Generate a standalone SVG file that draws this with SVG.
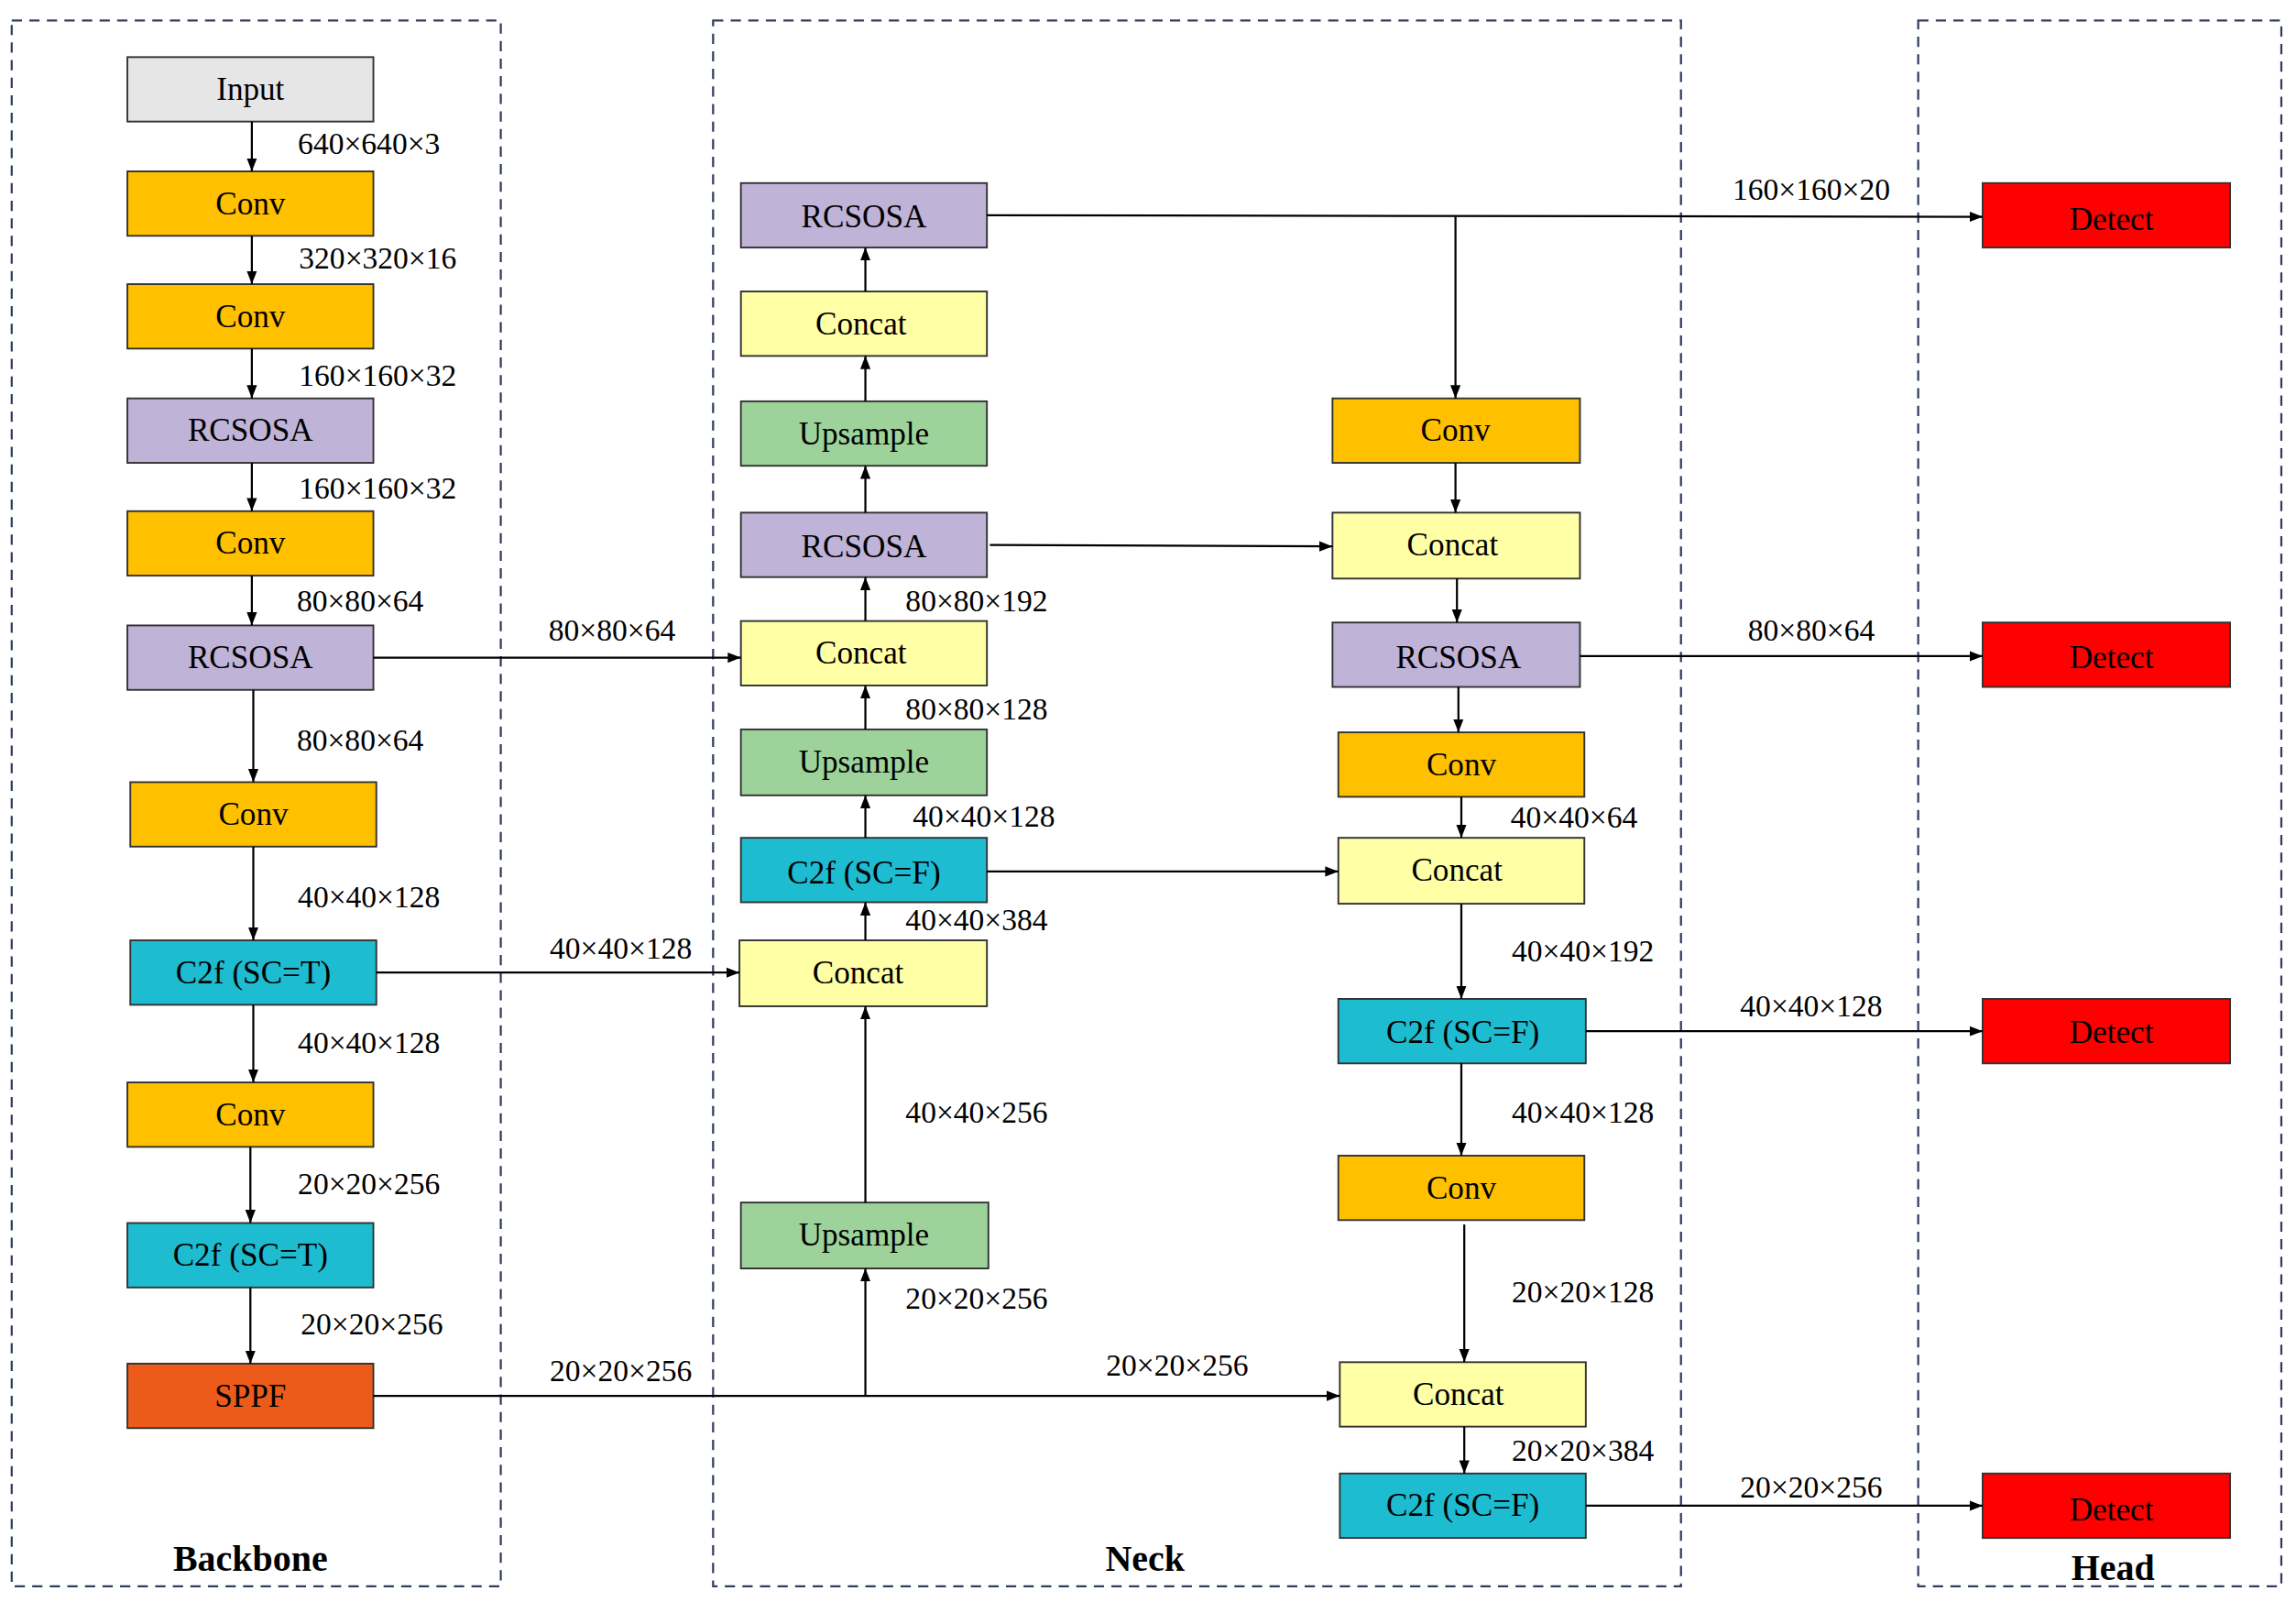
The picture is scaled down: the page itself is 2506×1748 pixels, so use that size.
<svg xmlns="http://www.w3.org/2000/svg" width="2506" height="1748" viewBox="0 0 2506 1748">
<defs>
<marker id="a" markerWidth="10" markerHeight="10" refX="9" refY="5" orient="auto" markerUnits="userSpaceOnUse"><path d="M0,1.5 L9,5 L0,8.5 z" fill="#000"/></marker>
<style>
.n{stroke:#333;stroke-width:1.2}
.t{font-family:"Liberation Serif",serif;font-size:22px;text-anchor:middle;dominant-baseline:central;fill:#000}
.l{font-family:"Liberation Serif",serif;font-size:21px;text-anchor:middle;dominant-baseline:central;fill:#000}
.h{font-family:"Liberation Serif",serif;font-size:25px;font-weight:bold;text-anchor:middle;dominant-baseline:central}
.c line,.c polyline{stroke:#000;stroke-width:1.4;fill:none;marker-end:url(#a)}
.g{fill:#e6e6e6}.o{fill:#ffc000}.p{fill:#c0b3d8}.y{fill:#ffffa6}.gr{fill:#9dd39b}.b{fill:#1ebcd0}.s{fill:#ec5b1a}.r{fill:#ff0000}
.d{fill:none;stroke:#2f3d5e;stroke-width:1.4;stroke-dasharray:7,5}
</style>
</defs>
<rect width="2506" height="1748" fill="#fff"/>
<g transform="scale(1.5982)">
<g id="frames">
<rect class="d" x="8" y="14" width="334" height="1069"/>
<rect class="d" x="487" y="14" width="661" height="1069"/>
<rect class="d" x="1310" y="14" width="248" height="1069"/>
<text class="h" x="171" y="1064">Backbone</text>
<text class="h" x="782" y="1064">Neck</text>
<text class="h" x="1443" y="1070">Head</text>
</g>
<g id="b1"><rect class="n g" x="87" y="39" width="168" height="44"/><text class="t" x="171" y="61">Input</text></g>
<g id="b2"><rect class="n o" x="87" y="117" width="168" height="44"/><text class="t" x="171" y="139">Conv</text></g>
<g id="b3"><rect class="n o" x="87" y="194" width="168" height="44"/><text class="t" x="171" y="216">Conv</text></g>
<g id="b4"><rect class="n p" x="87" y="272" width="168" height="44"/><text class="t" x="171" y="294">RCSOSA</text></g>
<g id="b5"><rect class="n o" x="87" y="349" width="168" height="44"/><text class="t" x="171" y="371">Conv</text></g>
<g id="b6"><rect class="n p" x="87" y="427" width="168" height="44"/><text class="t" x="171" y="449">RCSOSA</text></g>
<g id="b7"><rect class="n o" x="89" y="534" width="168" height="44"/><text class="t" x="173" y="556">Conv</text></g>
<g id="b8"><rect class="n b" x="89" y="642" width="168" height="44"/><text class="t" x="173" y="664">C2f (SC=T)</text></g>
<g id="b9"><rect class="n o" x="87" y="739" width="168" height="44"/><text class="t" x="171" y="761">Conv</text></g>
<g id="b10"><rect class="n b" x="87" y="835" width="168" height="44"/><text class="t" x="171" y="857">C2f (SC=T)</text></g>
<g id="b11"><rect class="n s" x="87" y="931" width="168" height="44"/><text class="t" x="171" y="953">SPPF</text></g>
<g id="n1"><rect class="n p" x="506" y="125" width="168" height="44"/><text class="t" x="590" y="148">RCSOSA</text></g>
<g id="n2"><rect class="n y" x="506" y="199" width="168" height="44"/><text class="t" x="588" y="221">Concat</text></g>
<g id="n3"><rect class="n gr" x="506" y="274" width="168" height="44"/><text class="t" x="590" y="296">Upsample</text></g>
<g id="n4"><rect class="n p" x="506" y="350" width="168" height="44"/><text class="t" x="590" y="373">RCSOSA</text></g>
<g id="n5"><rect class="n y" x="506" y="424" width="168" height="44"/><text class="t" x="588" y="446">Concat</text></g>
<g id="n6"><rect class="n gr" x="506" y="498" width="168" height="45"/><text class="t" x="590" y="520">Upsample</text></g>
<g id="n7"><rect class="n b" x="506" y="572" width="168" height="44"/><text class="t" x="590" y="596">C2f (SC=F)</text></g>
<g id="n8"><rect class="n y" x="505" y="642" width="169" height="45"/><text class="t" x="586" y="664">Concat</text></g>
<g id="n9"><rect class="n gr" x="506" y="821" width="169" height="45"/><text class="t" x="590" y="843">Upsample</text></g>
<g id="m1"><rect class="n o" x="910" y="272" width="169" height="44"/><text class="t" x="994" y="294">Conv</text></g>
<g id="m2"><rect class="n y" x="910" y="350" width="169" height="45"/><text class="t" x="992" y="372">Concat</text></g>
<g id="m3"><rect class="n p" x="910" y="425" width="169" height="44"/><text class="t" x="996" y="449">RCSOSA</text></g>
<g id="m4"><rect class="n o" x="914" y="500" width="168" height="44"/><text class="t" x="998" y="522">Conv</text></g>
<g id="m5"><rect class="n y" x="914" y="572" width="168" height="45"/><text class="t" x="995" y="594">Concat</text></g>
<g id="m6"><rect class="n b" x="914" y="682" width="169" height="44"/><text class="t" x="999" y="705">C2f (SC=F)</text></g>
<g id="m7"><rect class="n o" x="914" y="789" width="168" height="44"/><text class="t" x="998" y="811">Conv</text></g>
<g id="m8"><rect class="n y" x="915" y="930" width="168" height="44"/><text class="t" x="996" y="952">Concat</text></g>
<g id="m9"><rect class="n b" x="915" y="1006" width="168" height="44"/><text class="t" x="999" y="1028">C2f (SC=F)</text></g>
<g id="h1"><rect class="n r" x="1354" y="125" width="169" height="44"/><text class="t" x="1442" y="150">Detect</text></g>
<g id="h2"><rect class="n r" x="1354" y="425" width="169" height="44"/><text class="t" x="1442" y="449">Detect</text></g>
<g id="h3"><rect class="n r" x="1354" y="682" width="169" height="44"/><text class="t" x="1442" y="705">Detect</text></g>
<g id="h4"><rect class="n r" x="1354" y="1006" width="169" height="44"/><text class="t" x="1442" y="1031">Detect</text></g>
<g id="connectors" class="c">
<line x1="172" y1="83" x2="172" y2="117"/>
<line x1="172" y1="161" x2="172" y2="194"/>
<line x1="172" y1="238" x2="172" y2="272"/>
<line x1="172" y1="316" x2="172" y2="349"/>
<line x1="172" y1="393" x2="172" y2="427"/>
<line x1="173" y1="471" x2="173" y2="534"/>
<line x1="173" y1="578" x2="173" y2="642"/>
<line x1="173" y1="686" x2="173" y2="739"/>
<line x1="171" y1="783" x2="171" y2="835"/>
<line x1="171" y1="879" x2="171" y2="931"/>
<line x1="255" y1="449" x2="506" y2="449"/>
<line x1="257" y1="664" x2="505" y2="664"/>
<line x1="255" y1="953" x2="915" y2="953"/>
<line x1="591" y1="953" x2="591" y2="866"/>
<line x1="591" y1="821" x2="591" y2="687"/>
<line x1="591" y1="642" x2="591" y2="616"/>
<line x1="591" y1="572" x2="591" y2="543"/>
<line x1="591" y1="498" x2="591" y2="468"/>
<line x1="591" y1="424" x2="591" y2="394"/>
<line x1="591" y1="350" x2="591" y2="318"/>
<line x1="591" y1="274" x2="591" y2="243"/>
<line x1="591" y1="199" x2="591" y2="169"/>
<line x1="674" y1="147" x2="1354" y2="148"/>
<line x1="994" y1="148" x2="994" y2="272"/>
<line x1="994" y1="316" x2="994" y2="350"/>
<line x1="676" y1="372" x2="910" y2="373"/>
<line x1="995" y1="395" x2="995" y2="425"/>
<line x1="1079" y1="448" x2="1354" y2="448"/>
<line x1="996" y1="469" x2="996" y2="500"/>
<line x1="998" y1="544" x2="998" y2="572"/>
<line x1="674" y1="595" x2="914" y2="595"/>
<line x1="998" y1="617" x2="998" y2="682"/>
<line x1="1083" y1="704" x2="1354" y2="704"/>
<line x1="998" y1="726" x2="998" y2="789"/>
<line x1="1000" y1="836" x2="1000" y2="930"/>
<line x1="1000" y1="974" x2="1000" y2="1006"/>
<line x1="1083" y1="1028" x2="1354" y2="1028"/>
</g>
<g id="labels">
<text class="l" x="252" y="98">640×640×3</text>
<text class="l" x="258" y="176">320×320×16</text>
<text class="l" x="258" y="256">160×160×32</text>
<text class="l" x="258" y="333">160×160×32</text>
<text class="l" x="246" y="410">80×80×64</text>
<text class="l" x="246" y="505">80×80×64</text>
<text class="l" x="252" y="612">40×40×128</text>
<text class="l" x="252" y="712">40×40×128</text>
<text class="l" x="252" y="808">20×20×256</text>
<text class="l" x="254" y="904">20×20×256</text>
<text class="l" x="418" y="430">80×80×64</text>
<text class="l" x="424" y="647">40×40×128</text>
<text class="l" x="424" y="936">20×20×256</text>
<text class="l" x="804" y="932">20×20×256</text>
<text class="l" x="667" y="886">20×20×256</text>
<text class="l" x="667" y="759">40×40×256</text>
<text class="l" x="667" y="628">40×40×384</text>
<text class="l" x="672" y="557">40×40×128</text>
<text class="l" x="667" y="484">80×80×128</text>
<text class="l" x="667" y="410">80×80×192</text>
<text class="l" x="1237" y="129">160×160×20</text>
<text class="l" x="1237" y="430">80×80×64</text>
<text class="l" x="1075" y="558">40×40×64</text>
<text class="l" x="1081" y="649">40×40×192</text>
<text class="l" x="1237" y="687">40×40×128</text>
<text class="l" x="1081" y="759">40×40×128</text>
<text class="l" x="1081" y="882">20×20×128</text>
<text class="l" x="1081" y="990">20×20×384</text>
<text class="l" x="1237" y="1015">20×20×256</text>
</g>
</g>
</svg>
